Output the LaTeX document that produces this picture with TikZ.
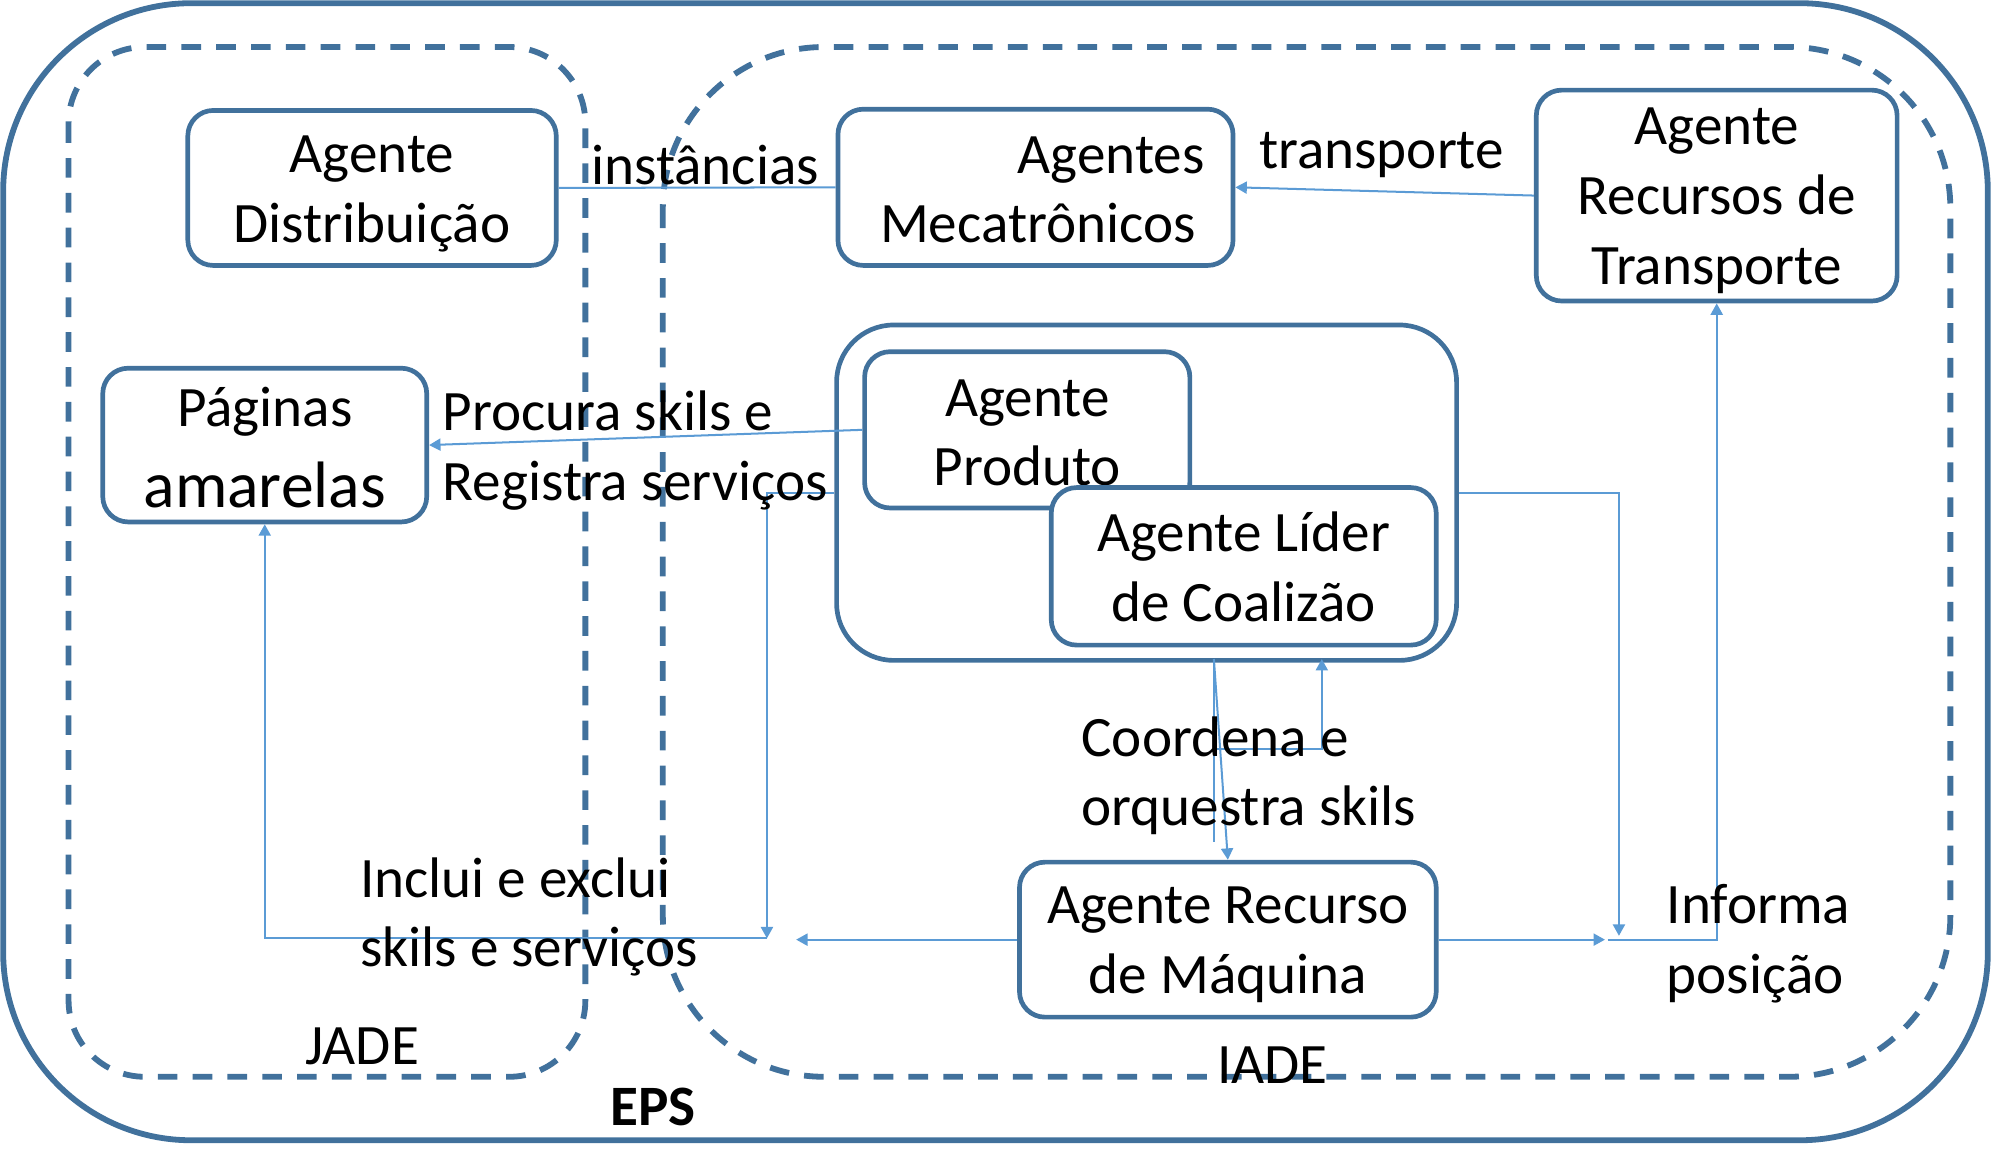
\documentclass[tikz,border=0pt]{standalone}
\usepackage{fontspec}
\setmainfont{Carlito}
\usetikzlibrary{arrows.meta}
\definecolor{bord}{HTML}{41719C}
\definecolor{conn}{HTML}{5B9BD5}
\begin{document}
\begin{tikzpicture}[x=0.01cm,y=-0.01cm,
  every node/.style={font=\fontsize{12.8}{15.6}\selectfont, inner sep=0pt},
  agbox/.style={draw=bord, line width=1.05pt, rounded corners=0.2cm, fill=white},
  boxtext/.style={align=center},
  region/.style={draw=bord, line width=1.3pt, dash pattern=on 4.4pt off 3.4pt},
  link/.style={draw=conn, line width=0.45pt},
  arr/.style={link, -{Triangle[width=0.095cm,length=0.09cm]}},
  lbl/.style={align=left, anchor=west}]

\useasboundingbox (0,0) rectangle (1568,926);

% regions
\draw[bord, line width=1.3pt, rounded corners=1.48cm] (2.5,2.5) rectangle (1565.5,898);
\draw[region, rounded corners=0.6cm] (54,37) rectangle (461,848);
\draw[region, rounded corners=1.27cm] (522,37) rectangle (1536,848);

% agents (boxes)
\node[agbox, minimum width=2.90cm, minimum height=1.22cm] (dist) at (293,148) {};
\node[agbox, minimum width=3.11cm, minimum height=1.23cm] (mec) at (815.5,147.5) {};
\node[agbox, minimum width=2.84cm, minimum height=1.66cm] (trans) at (1352,154) {};
\node[agbox, minimum width=2.55cm, minimum height=1.21cm] (pag) at (208.5,350.5) {};
\node[agbox, rounded corners=0.45cm, minimum width=4.88cm, minimum height=2.64cm] (cont) at (903,388) {};
\node[agbox, minimum width=2.56cm, minimum height=1.23cm] (prod) at (809,338.5) {};
\node[boxtext] (prodT) at (809,341) {Agente\\Produto};
\node[agbox, minimum width=3.03cm, minimum height=1.24cm] (lider) at (979.5,446) {};
\node[agbox, minimum width=3.28cm, minimum height=1.22cm] (maq) at (967,740) {};

% box texts
\node[boxtext] (distT) at (293,153) {Agente\\Distribuição};
\node[boxtext, text width=2.66cm, align=right] (mecT) at (815.5,149.5) {Agentes\\Mecatrônicos\kern0.07cm};
\node[boxtext] (transT) at (1352,158) {Agente\\Recursos de\\Transporte};
\node[anchor=base] (pag1) at (208.5,336) {Páginas};
\node[anchor=base, font=\fontsize{14.7}{17.9}\selectfont] (pag2) at (208.5,400) {amarelas};
\node[boxtext] (liderT) at (979.5,446.5) {Agente Líder\\de Coalizão};
\node[boxtext] (maqT) at (967,744) {Agente Recurso\\de Máquina};

% helper points
\coordinate (c1) at (604,739);
\coordinate (c2) at (627,740);
\coordinate (c3) at (1275,737);
\coordinate (c4) at (1264,740);
\coordinate (c5) at (1266,740);
\coordinate (c6) at (956,519);
\coordinate (c7) at (956,663);
\coordinate (c8) at (956,590);
\coordinate (c9) at (1041,519);

% connectors
\draw[link] (dist.east) -- (mec.west);
\draw[arr] (trans.west) -- (mec.east);
\draw[arr] (prod.west) -- (pag.east);
\draw[arr] (cont.west) -| (c1);
\draw[arr] (maq.west) -- (c2);
\draw[arr] (c1) -| (pag.south);
\draw[arr] (cont.east) -| (c3);
\draw[arr] (maq.east) -- (c4);
\draw[arr] (c5) -| (trans.south);
\draw[arr] (c6) -- (maq.north);
\draw[link] (c6) -- (c7);
\draw[arr] (c8) -| (c9);

% labels
\node[anchor=base west] (linst) at (465,145) {instâncias};
\node[anchor=base west] (ltrans) at (991,133) {transporte};
\node[lbl] (lproc) at (348,355) {Procura skils e\\Registra serviços};
\node[lbl] (lincl) at (283,722) {Inclui e exclui\\skils e serviços};
\node[lbl] (lcoord) at (851,611) {Coordena e\\orquestra skils};
\node[lbl] (linfo) at (1312,743) {Informa\\posição};
\node[anchor=base west] (ljade) at (240,838) {JADE};
\node[anchor=base west] (liade) at (958,853) {IADE};
\node[anchor=base west, font=\fontsize{12.8}{15.6}\selectfont\bfseries] (leps) at (480,886) {EPS};
\end{tikzpicture}
\end{document}
